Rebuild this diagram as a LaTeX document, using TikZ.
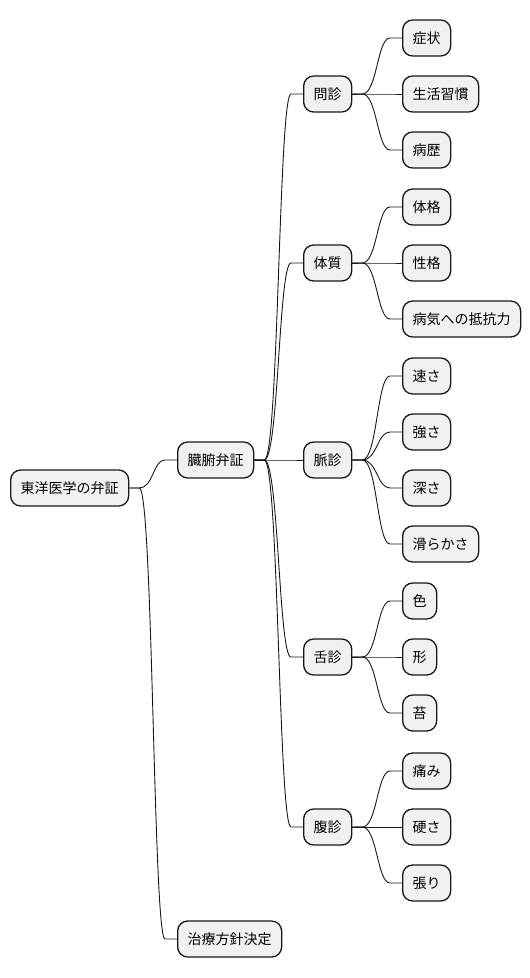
\documentclass[tikz,border=0pt]{standalone}
\usepackage{fontspec}
\usetikzlibrary{calc}
\newfontfamily\jp{Noto Sans CJK JP}
\definecolor{boxfill}{HTML}{F1F1F1}
\definecolor{boxline}{HTML}{181818}
\begin{document}
\begin{tikzpicture}[x=1pt,y=-1pt,
  mm/.style={draw=boxline,line width=1.3pt,fill=boxfill,rounded corners=10pt,
    minimum height=36pt,inner xsep=10pt,inner ysep=0pt,anchor=west,
    font=\jp\fontsize{14pt}{16pt}\selectfont,text=black},
  conn/.style={draw=boxline,line width=0.9pt}]
\useasboundingbox (0,0) rectangle (530,978);
\fill[white] (0,0) rectangle (530,978);
\newcommand{\link}[2]{%
  \path (#1.east) coordinate (pA) (#2.west) coordinate (pB);
  \draw[conn] let \p1=(pA), \p2=(pB) in
    (pA) -- ++(10,0) .. controls ({(\x1+\x2)/2},\y1) and ({(\x1+\x2)/2},\y2) .. ([xshift=-12pt]pB) -- (pB);}
\node[mm] (root) at (10,488) {東洋医学の弁証};
\node[mm] (zofu) at (177,460) {臓腑弁証};
\node[mm] (chiryo) at (177,939) {治療方針決定};
\node[mm] (monshin) at (303,94) {問診};
\node[mm] (taishitsu) at (303,263) {体質};
\node[mm] (myakushin) at (303,460) {脈診};
\node[mm] (zetsushin) at (303,657) {舌診};
\node[mm] (fukushin) at (303,827) {腹診};
\node[mm] (a1) at (402,38) {症状};
\node[mm] (a2) at (402,94) {生活習慣};
\node[mm] (a3) at (402,150) {病歴};
\node[mm] (b1) at (402,207) {体格};
\node[mm] (b2) at (402,263) {性格};
\node[mm] (b3) at (402,319) {病気への抵抗力};
\node[mm] (c1) at (402,376) {速さ};
\node[mm] (c2) at (402,432) {強さ};
\node[mm] (c3) at (402,488) {深さ};
\node[mm] (c4) at (402,544) {滑らかさ};
\node[mm] (d1) at (402,601) {色};
\node[mm] (d2) at (402,657) {形};
\node[mm] (d3) at (402,713) {苔};
\node[mm] (e1) at (402,771) {痛み};
\node[mm] (e2) at (402,827) {硬さ};
\node[mm] (e3) at (402,883) {張り};
\link{root}{zofu}
\link{root}{chiryo}
\link{zofu}{monshin}
\link{zofu}{taishitsu}
\link{zofu}{myakushin}
\link{zofu}{zetsushin}
\link{zofu}{fukushin}
\link{monshin}{a1}
\link{monshin}{a2}
\link{monshin}{a3}
\link{taishitsu}{b1}
\link{taishitsu}{b2}
\link{taishitsu}{b3}
\link{myakushin}{c1}
\link{myakushin}{c2}
\link{myakushin}{c3}
\link{myakushin}{c4}
\link{zetsushin}{d1}
\link{zetsushin}{d2}
\link{zetsushin}{d3}
\link{fukushin}{e1}
\link{fukushin}{e2}
\link{fukushin}{e3}
\end{tikzpicture}
\end{document}
